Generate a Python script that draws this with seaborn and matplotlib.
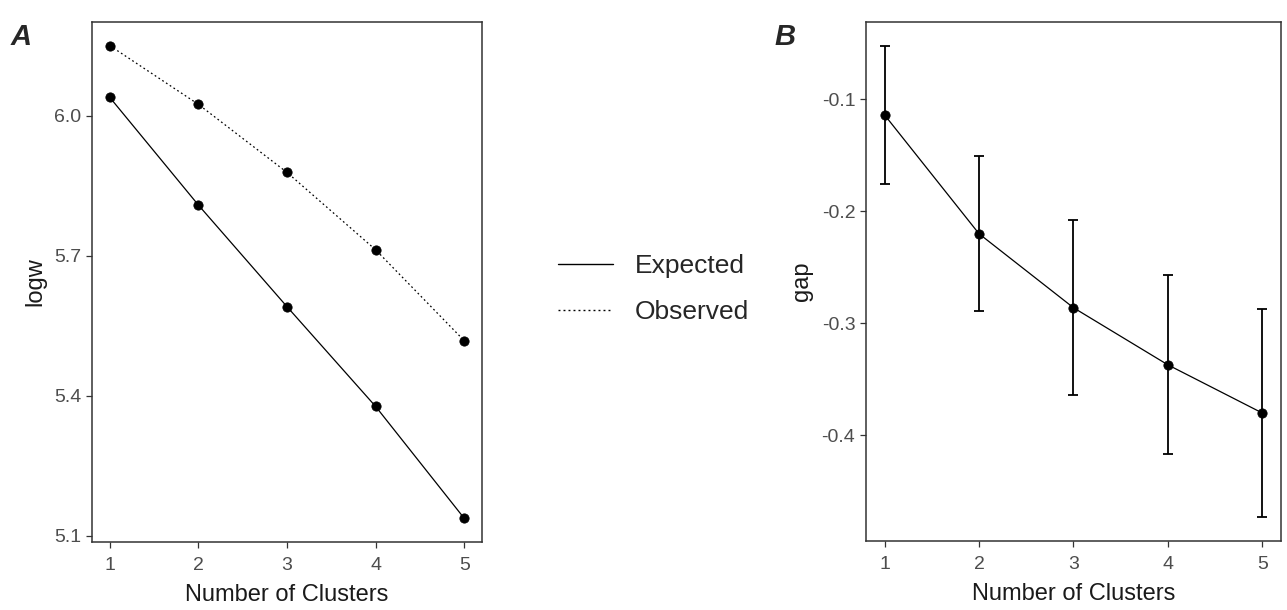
import numpy as np
import pandas as pd
import matplotlib
matplotlib.use('Agg')
import matplotlib.pyplot as plt
import seaborn as sns

# ----------------- Data -----------------
clusters = [1, 2, 3, 4, 5]
logw_expected = [6.040, 5.809, 5.591, 5.377, 5.137]
logw_observed = [6.151, 6.025, 5.879, 5.713, 5.518]
gap = [-0.114, -0.220, -0.286, -0.337, -0.380]
gap_se = [0.062, 0.069, 0.078, 0.080, 0.093]

df_logw = pd.DataFrame({
    'k': clusters * 2,
    'logw': logw_expected + logw_observed,
    'type': ['Expected'] * 5 + ['Observed'] * 5,
})
df_gap = pd.DataFrame({'k': clusters, 'gap': gap, 'se': gap_se})

# ----------------- Style -----------------
sns.set_theme(style='white')
plt.rcParams['font.family'] = ['Liberation Sans', 'DejaVu Sans']
tick_col = '#4D4D4D'
border_col = '#333333'

fig = plt.figure(figsize=(12.87, 6.10), dpi=100)
axA = fig.add_axes([0.0715, 0.1115, 0.303, 0.8525])
axB = fig.add_axes([0.6727, 0.1136, 0.3227, 0.8503])


def style_axis(ax):
    for s in ax.spines.values():
        s.set_color(border_col)
        s.set_linewidth(1.1)
    ax.tick_params(axis='both', which='both', direction='out', length=4, width=0.9,
                   color=border_col, labelcolor=tick_col, labelsize=14,
                   bottom=True, left=True)
    ax.tick_params(axis='x', pad=7)
    ax.set_xlabel('Number of Clusters', fontsize=17, color='#1a1a1a', labelpad=7)
    ax.set_xticks(clusters)
    ax.set_xlim(0.8, 5.2)


def expand(lo, hi, f=0.05):
    r = hi - lo
    return lo - r * f, hi + r * f


# ----------------- Panel A -----------------
sns.lineplot(data=df_logw, x='k', y='logw', style='type', color='black',
             dashes={'Expected': '', 'Observed': (1.4, 2.2)}, linewidth=0.9,
             ax=axA, legend=True)
sns.scatterplot(data=df_logw, x='k', y='logw', color='black', s=45,
                edgecolor='black', ax=axA, legend=False, zorder=3)
style_axis(axA)
axA.set_ylabel('logw', fontsize=17, color='#1a1a1a', labelpad=6)
axA.set_yticks([5.1, 5.4, 5.7, 6.0])
axA.set_yticklabels(['5.1', '5.4', '5.7', '6.0'])
axA.set_ylim(*expand(min(logw_expected + logw_observed), max(logw_expected + logw_observed)))

handles, labels = axA.get_legend_handles_labels()
axA.get_legend().remove()
for h in handles:
    h.set_color('black')
    h.set_linewidth(1.0)
fig.legend(handles, labels, loc='center left', bbox_to_anchor=(0.415, 0.526),
           frameon=False, fontsize=19, handlelength=2.1, handletextpad=0.8,
           labelspacing=0.85)

# ----------------- Panel B -----------------
sns.lineplot(data=df_gap, x='k', y='gap', color='black', linewidth=0.9, ax=axB)
sns.scatterplot(data=df_gap, x='k', y='gap', color='black', s=45,
                edgecolor='black', ax=axB, zorder=3)
axB.errorbar(df_gap['k'], df_gap['gap'], yerr=df_gap['se'], fmt='none',
             ecolor='black', elinewidth=1.3, capsize=3.5, capthick=1.3)
style_axis(axB)
axB.set_ylabel('gap', fontsize=17, color='#1a1a1a', labelpad=6)
axB.set_yticks([-0.4, -0.3, -0.2, -0.1])
axB.set_yticklabels(['-0.4', '-0.3', '-0.2', '-0.1'])
lo = min(g - s for g, s in zip(gap, gap_se))
hi = max(g + s for g, s in zip(gap, gap_se))
axB.set_ylim(*expand(lo, hi))

# panel tags
fig.text(0.008, 0.962, 'A', fontsize=21, fontweight='bold', fontstyle='italic', va='top')
fig.text(0.602, 0.962, 'B', fontsize=21, fontweight='bold', fontstyle='italic', va='top')

fig.savefig('out.png', dpi=100, facecolor='white')
